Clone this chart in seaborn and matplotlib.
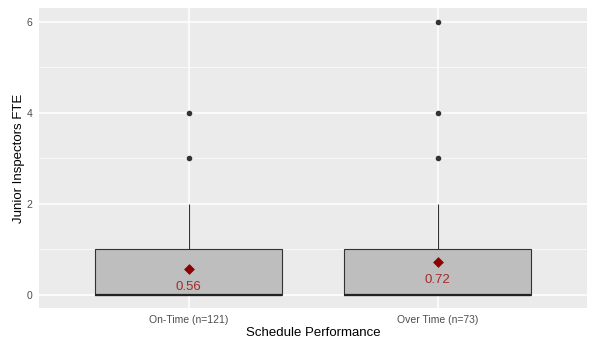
import numpy as np
import pandas as pd
import matplotlib
matplotlib.use("Agg")
import matplotlib.pyplot as plt
import seaborn as sns

# Junior inspector FTE counts per schedule-performance group
categories = ["On-Time (n=121)", "Over Time (n=73)"]
ontime_values = [0, 1, 2, 3, 4]
ontime_counts = [70, 37, 12, 1, 1]
overtime_values = [0, 0.5, 1, 2, 3, 4, 6]
overtime_counts = [40, 1, 19, 10, 1, 1, 1]

df = pd.DataFrame({
    "group": [categories[0]] * sum(ontime_counts) + [categories[1]] * sum(overtime_counts),
    "fte": np.concatenate([np.repeat(ontime_values, ontime_counts),
                           np.repeat(overtime_values, overtime_counts)]),
})

sns.set_theme(style="darkgrid")
plt.rcParams["font.family"] = ["Liberation Sans", "DejaVu Sans"]

fig = plt.figure(figsize=(5.93, 3.40), dpi=100)
ax = fig.add_axes([0.066, 0.093, 0.924, 0.883])
ax.set_facecolor("#EBEBEB")

sns.boxplot(data=df, x="group", y="fte", order=categories, ax=ax,
            color="#BEBEBE", saturation=1, width=0.75, linecolor="#333333",
            linewidth=0.8, showcaps=False, fliersize=3,
            flierprops=dict(marker="o", markerfacecolor="#333333",
                            markeredgecolor="#333333"),
            medianprops=dict(linewidth=1.6, color="#222222"),
            zorder=3)

sns.pointplot(data=df, x="group", y="fte", order=categories, ax=ax,
              estimator="mean", errorbar=None, linestyle="none",
              markers="D", color="#8B0000", markersize=3.5, zorder=5)

means = df.groupby("group")["fte"].mean().reindex(categories)
for i, m in enumerate(means):
    ax.annotate(f"{m:.2f}", (i, m), xytext=(0, -13), textcoords="offset points",
                ha="center", va="center", color="#A52A2A", fontsize=9.5, zorder=6)

ax.set_xlim(-0.6, 1.6)
ax.set_ylim(-0.3, 6.3)
ax.set_yticks([0, 2, 4, 6])
ax.set_yticks([1, 3, 5], minor=True)
ax.grid(which="major", color="white", linewidth=1.1)
ax.grid(which="minor", axis="y", color="white", linewidth=0.5)
ax.set_axisbelow(True)
for s in ax.spines.values():
    s.set_visible(False)

ax.tick_params(axis="both", which="major", length=3, width=0.8, color="#333333",
               labelsize=7.5, labelcolor="#4D4D4D", pad=2)
ax.tick_params(axis="y", which="minor", length=0)

ax.set_xlabel("Schedule Performance", fontsize=9.5, color="black", labelpad=1)
ax.set_ylabel("Junior Inspectors FTE", fontsize=9.5, color="black", labelpad=1)

fig.savefig("out.png", dpi=100)
